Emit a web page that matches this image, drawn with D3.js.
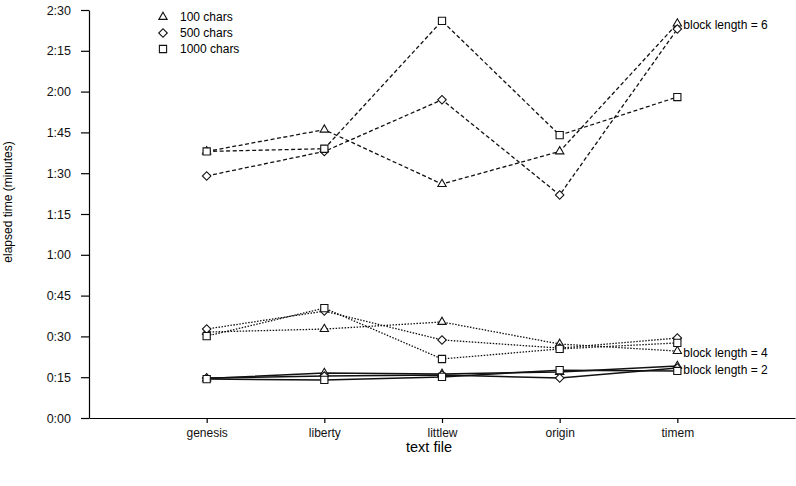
<!DOCTYPE html>
<html>
<head>
<meta charset="utf-8">
<script src="https://cdn.jsdelivr.net/npm/d3@7"></script>
<style>
  body { margin: 0; background: #fff; }
  svg { font-family: "Liberation Sans", Arial, sans-serif; }
  .axis path, .axis line { stroke: #000; stroke-width: 1.2; }
  .axis text { fill: #111; }
</style>
</head>
<body>
<svg id="svg" width="796" height="486"></svg>
<script>
// text files on the x axis
const files = ["genesis", "liberty", "littlew", "origin", "timem"];
// y tick values in seconds
const yTicks = [0, 15, 30, 45, 60, 75, 90, 105, 120, 135, 150];
const sizes = ["100 chars", "500 chars", "1000 chars"];
const blocks = ["block length = 6", "block length = 4", "block length = 2"];

// elapsed seconds, per block length, per text size
const b6_100 = [98, 106, 86, 98, 145];
const b6_500 = [89, 98, 117, 82, 143];
const b6_1000 = [98, 99, 146, 104, 118];
const b4_100 = [31.6, 32.7, 35.3, 27.2, 24.6];
const b4_500 = [32.7, 39.3, 28.7, 25.7, 29.4];
const b4_1000 = [30.1, 40.4, 21.7, 25.4, 27.6];
const b2_100 = [14.5, 16.5, 16.2, 16.9, 19.1];
const b2_500 = [14.7, 15.4, 15.8, 14.7, 18.4];
const b2_1000 = [14.3, 14.0, 15.1, 17.6, 17.3];

const series = [
  { block: 0, size: 0, values: b6_100 },
  { block: 0, size: 1, values: b6_500 },
  { block: 0, size: 2, values: b6_1000 },
  { block: 1, size: 0, values: b4_100 },
  { block: 1, size: 1, values: b4_500 },
  { block: 1, size: 2, values: b4_1000 },
  { block: 2, size: 0, values: b2_100 },
  { block: 2, size: 1, values: b2_500 },
  { block: 2, size: 2, values: b2_1000 },
];

let container = d3.select("#svg");
const mLeft = 89, mRight = 795, mTop = 10, mBottom = 418;

let xScale = d3.scalePoint().domain(files).range([mLeft, mRight]).padding(1);
let yScale = d3.scaleLinear().domain([0, 150]).range([mBottom, mTop]);

const fmt = (s) => Math.floor(s / 60) + ":" + String(s % 60).padStart(2, "0");

container
  .append("g")
  .attr("class", "axis")
  .attr("transform", "translate(" + mLeft + ",0)")
  .call(d3.axisLeft(yScale).tickValues(yTicks).tickFormat(fmt).tickSize(8).tickSizeOuter(0).tickPadding(10))
  .selectAll("text")
  .style("font-size", "12.5px");

container
  .append("g")
  .attr("class", "axis")
  .attr("transform", "translate(0," + mBottom + ")")
  .call(d3.axisBottom(xScale).tickSize(5).tickSizeOuter(0).tickPadding(5))
  .selectAll("text")
  .style("font-size", "12px");

container
  .append("text")
  .attr("x", (mLeft + mRight) / 2 - 13)
  .attr("y", 452)
  .attr("text-anchor", "middle")
  .style("font-size", "14.5px")
  .text("text file");

container
  .append("text")
  .attr("transform", "translate(12,202) rotate(-90)")
  .attr("text-anchor", "middle")
  .style("font-size", "12px")
  .text("elapsed time (minutes)");

// line styles per block length
const dashes = ["4,2.5", "1.5,1.5", null];
const symbols = [
  d3.symbol().type(d3.symbolTriangle).size(30),
  d3.symbol().type(d3.symbolSquare).size(36),
  d3.symbol().type(d3.symbolSquare).size(52),
];
const symRotate = [0, 45, 0];

let line = d3
  .line()
  .x((d, i) => xScale(files[i]))
  .y((d) => yScale(d));

series.forEach((s) => {
  container
    .append("path")
    .datum(s.values)
    .attr("d", line)
    .attr("fill", "none")
    .attr("stroke", "#111")
    .attr("stroke-width", s.block === 2 ? 1.5 : 1.3)
    .attr("stroke-dasharray", dashes[s.block]);
});

series.forEach((s) => {
  container
    .selectAll(null)
    .data(s.values)
    .enter()
    .append("path")
    .attr("d", symbols[s.size])
    .attr("transform", (d, i) =>
      "translate(" + xScale(files[i]) + "," + yScale(d) + ") rotate(" + symRotate[s.size] + ")")
    .attr("fill", "#fff")
    .attr("stroke", "#111")
    .attr("stroke-width", 1.1);
});

// block length labels beside the last file
[25, 353, 370].forEach((y, i) => {
  container
    .append("text")
    .attr("x", xScale("timem") + 6)
    .attr("y", y)
    .attr("dy", "0.35em")
    .style("font-size", "12px")
    .text(blocks[i]);
});

// legend
var legend = container
  .selectAll(".legend")
  .data(sizes)
  .enter()
  .append("g")
  .attr("class", "legend")
  .attr("transform", (d, i) => "translate(163," + (17 + i * 16) + ")");
legend
  .append("path")
  .attr("d", (d, i) => symbols[i]())
  .attr("transform", (d, i) => "rotate(" + symRotate[i] + ")")
  .attr("fill", "#fff")
  .attr("stroke", "#111")
  .attr("stroke-width", 1.1);
legend
  .append("text")
  .attr("x", 17)
  .attr("dy", "0.35em")
  .style("font-size", "12px")
  .text((d) => d);
</script>
</body>
</html>
